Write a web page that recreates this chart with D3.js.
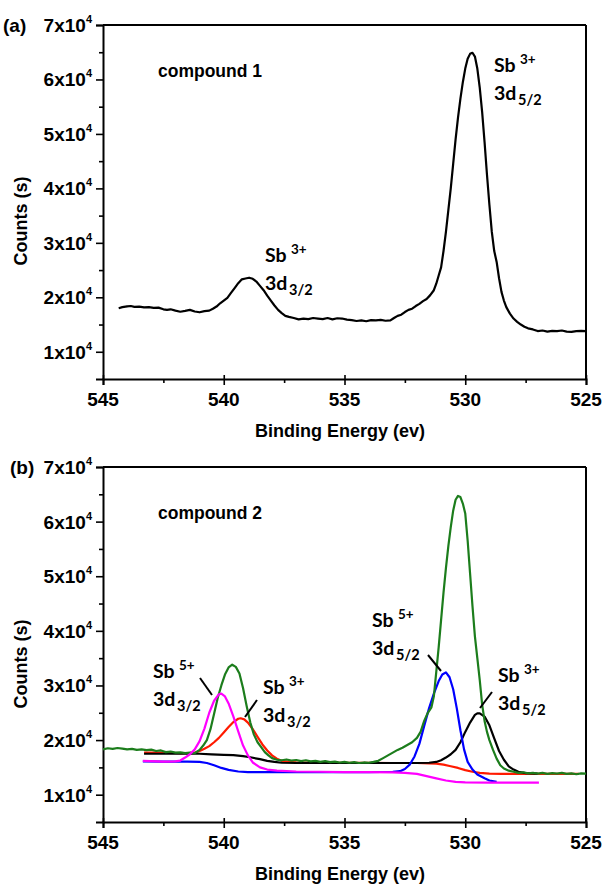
<!DOCTYPE html>
<html lang="en">
<head>
<meta charset="UTF-8">
<title>XPS Sb 3d spectra</title>
<script src="https://d3js.org/d3.v7.min.js"></script>
<style>
body { margin: 0; background: #fff; }
svg text { font-family: "Liberation Sans", Arial, sans-serif; font-weight: bold; fill: #000; }
svg .ann { font-family: Lato, "Open Sans", sans-serif; }
</style>
</head>
<body>
<svg id="chart" width="605" height="886"></svg>
<script>
// data: [binding energy (eV), counts]
var compound1 = [
  [544.35,18000],[544.2,18200],[544.0,18350],[543.85,18400],[543.7,18250],[543.5,18300],[543.3,18150],[543.1,18200],
  [542.9,18050],[542.7,18100],[542.5,17800],[542.35,17700],[542.2,17800],[542.0,17550],[541.8,17350],[541.6,17500],
  [541.4,17700],[541.2,17400],[541.0,17250],[540.8,17450],[540.6,17550],[540.45,17900],[540.3,18300],[540.15,18900],
  [540.0,19400],[539.85,19900],[539.7,20800],[539.55,21700],[539.4,22600],[539.25,23300],[539.1,23450],[538.95,23600],
  [538.8,23400],[538.65,22900],[538.5,22100],[538.35,21300],[538.2,20300],[538.05,19400],[537.9,18500],[537.75,17700],
  [537.6,17100],[537.45,16600],[537.3,16400],[537.1,16200],[536.9,15950],[536.7,16100],[536.5,16000],[536.3,16200],
  [536.1,16100],[535.9,16000],[535.7,16200],[535.5,15950],[535.3,16150],[535.1,16100],[534.9,15900],[534.7,15800],
  [534.5,15650],[534.3,15750],[534.1,15600],[533.9,15800],[533.7,15750],[533.5,15850],[533.3,15700],[533.1,15750],
  [532.95,16200],[532.8,16600],[532.65,16800],[532.5,17300],[532.35,17700],[532.2,17900],[532.05,18400],[531.9,18800],
  [531.75,19300],[531.6,19700],[531.45,20400],[531.3,21300],[531.2,22500],[531.1,24000],[531.0,25500],[530.9,28500],
  [530.8,32000],[530.7,36000],[530.6,40000],[530.5,44500],[530.4,49000],[530.3,53000],[530.2,56500],[530.1,59500],
  [530.0,62000],[529.9,63800],[529.8,64700],[529.7,64900],[529.6,64200],[529.5,62000],[529.4,58500],[529.3,54000],
  [529.2,48500],[529.1,42500],[529.0,37000],[528.9,32000],[528.8,28500],[528.7,26500],[528.6,23500],[528.5,21000],
  [528.4,19400],[528.3,18200],[528.15,17000],[528.0,16100],[527.85,15500],[527.7,15000],[527.55,14600],[527.4,14300],
  [527.2,14100],[527.0,13800],[526.8,13900],[526.6,13700],[526.4,13850],[526.2,13800],[526.0,13900],[525.8,13700],
  [525.6,13650],[525.4,13800],[525.2,13850],[525.0,13800]
];

var c2Measured = [
  [545.0,18300],[544.8,18500],[544.6,18400],[544.4,18550],[544.2,18450],[544.0,18300],[543.8,18400],[543.6,18200],
  [543.4,18300],[543.2,18150],[543.0,18250],[542.8,18000],[542.6,18100],[542.4,17800],[542.2,17900],[542.0,17700],
  [541.8,17750],[541.6,17600],[541.4,17700],[541.2,17600],[541.0,18200],[540.85,19000],[540.7,20000],[540.55,22000],
  [540.4,24800],[540.25,27700],[540.1,30000],[539.95,32000],[539.8,33300],[539.65,33800],[539.5,33400],[539.35,32200],
  [539.2,29500],[539.05,26200],[538.9,23200],[538.75,21000],[538.6,19600],[538.45,18700],[538.3,17800],[538.15,17200],
  [538.0,16700],[537.8,16400],[537.6,16300],[537.4,16450],[537.2,16250],[537.0,16350],[536.8,16150],[536.6,16300],
  [536.4,16100],[536.2,16200],[536.0,16000],[535.8,16150],[535.6,15950],[535.4,16050],[535.2,15900],[535.0,16000],
  [534.8,15850],[534.6,15950],[534.4,15800],[534.2,15900],[534.0,15850],[533.8,16000],[533.6,16200],[533.4,16700],
  [533.2,17200],[533.0,17700],[532.8,18200],[532.6,18600],[532.4,19100],[532.2,19600],[532.0,20400],[531.85,21500],
  [531.7,23500],[531.55,25000],[531.4,26000],[531.3,28000],[531.2,32500],[531.1,37000],[531.0,42000],[530.9,47000],
  [530.8,51500],[530.7,55500],[530.6,59000],[530.5,62000],[530.4,64000],[530.3,64700],[530.2,64500],[530.1,63300],
  [530.0,61500],[529.9,56500],[529.8,50500],[529.7,44500],[529.6,39000],[529.5,35000],[529.4,31000],[529.3,26500],
  [529.2,23500],[529.1,21500],[529.0,20000],[528.85,18200],[528.7,16600],[528.55,15400],[528.4,14800],[528.2,14400],
  [528.0,14200],[527.8,14000],[527.6,14100],[527.4,13900],[527.2,14000],[527.0,13850],[526.8,14000],[526.6,13800],
  [526.4,13950],[526.2,13850],[526.0,14000],[525.8,13800],[525.6,13900],[525.4,13750],[525.2,13900],[525.0,13850]
];

var c2Sb3_32 = [
  [543.3,17700],[542.8,17700],[542.3,17650],[541.8,17600],[541.4,17650],[541.2,17700],[541.0,18000],[540.8,18400],
  [540.6,18900],[540.4,19600],[540.2,20400],[540.0,21400],[539.8,22400],[539.6,23300],[539.4,23900],[539.3,24000],
  [539.15,23800],[539.0,23200],[538.8,22000],[538.6,20600],[538.4,19200],[538.2,18100],[538.0,17200],[537.8,16600],
  [537.6,16200],[537.3,16000],[537.0,15900],[536.0,15850],[535.0,15850],[534.0,15850],[533.0,15800],[532.0,15800],
  [531.5,15750],[531.2,15700],[530.9,15500],[530.6,15200],[530.3,14900],[530.0,14500],[529.7,14200],[529.4,14000],
  [529.0,13850],[528.5,13800],[528.0,13800],[527.0,13800],[526.0,13800],[525.3,13800]
];

var c2Sb3_52 = [
  [543.3,17500],[542.5,17500],[541.5,17550],[541.0,17500],[540.5,17400],[540.0,17300],[539.6,17250],[539.2,17050],
  [538.9,16850],[538.5,16500],[538.2,16200],[537.9,16000],[537.6,15850],[537.0,15800],[536.0,15800],[535.0,15800],
  [534.0,15800],[533.0,15800],[532.0,15800],[531.5,15850],[531.2,16000],[531.0,16300],[530.8,16800],[530.6,17400],
  [530.4,18200],[530.2,19600],[530.0,21500],[529.8,23200],[529.6,24600],[529.5,24900],[529.4,24900],[529.2,24300],
  [529.0,22700],[528.8,20300],[528.6,18000],[528.4,16400],[528.2,15200],[528.0,14600],[527.8,14200],[527.5,13950],
  [527.0,13850]
];

var c2Sb5_52 = [
  [543.35,16100],[542.5,16050],[541.5,16050],[541.0,16000],[540.7,15800],[540.4,15400],[540.1,14900],[539.8,14550],
  [539.4,14250],[539.0,14150],[538.0,14150],[537.0,14150],[536.0,14150],[535.0,14150],[534.0,14150],[533.0,14200],
  [532.7,14300],[532.5,14700],[532.3,15500],[532.1,17000],[531.9,19300],[531.7,22600],[531.5,25800],[531.3,28500],
  [531.1,30800],[530.95,32000],[530.8,32400],[530.65,31500],[530.5,29300],[530.35,25800],[530.2,21800],[530.05,18300],
  [529.9,16000],[529.7,14600],[529.5,13700],[529.2,13000],[529.0,12600],[528.7,12350]
];

var c2Sb5_32 = [
  [543.35,16200],[542.5,16050],[542.0,16100],[541.8,16250],[541.6,16800],[541.4,17400],[541.2,18300],[541.0,19800],
  [540.8,22100],[540.6,25000],[540.4,27200],[540.2,28400],[540.1,28500],[539.95,28000],[539.8,26700],[539.6,24300],
  [539.4,21600],[539.2,19000],[539.0,17200],[538.8,15900],[538.5,15000],[538.2,14600],[537.8,14400],[537.0,14250],
  [536.0,14200],[535.0,14150],[534.0,14150],[533.0,14100],[532.5,14000],[532.0,13800],[531.6,13400],[531.2,13000],
  [530.8,12600],[530.4,12350],[530.0,12250],[529.0,12200],[528.0,12200],[526.95,12200]
];

var xTicks = [545, 540, 535, 530, 525];
var xMinor = [542.5, 537.5, 532.5, 527.5];
var yTicks = [10000, 20000, 30000, 40000, 50000, 60000, 70000];
var yMinor = [15000, 25000, 35000, 45000, 55000, 65000];
var yLabels = ["1", "2", "3", "4", "5", "6", "7"];

var svg = d3.select("#chart");

function panel(top, bottom, letter, compound, series) {
  var x = d3.scaleLinear().domain([545, 525]).range([103, 586]);
  var y = d3.scaleLinear().domain([5000, 70000]).range([bottom, top]);
  var g = svg.append("g");

  // top & right frame
  g.append("line").attr("x1", 103).attr("x2", 586).attr("y1", top).attr("y2", top)
    .attr("stroke", "#000").attr("stroke-width", 2);
  g.append("line").attr("x1", 586).attr("x2", 586).attr("y1", top).attr("y2", bottom)
    .attr("stroke", "#000").attr("stroke-width", 2);

  // x axis
  var xa = g.append("g").attr("transform", "translate(0," + bottom + ")")
    .call(d3.axisBottom(x).tickValues(xTicks).tickSize(6).tickFormat(""));
  xa.selectAll(".tick line").attr("y1", -4);
  g.append("g").attr("transform", "translate(0," + bottom + ")")
    .call(d3.axisBottom(x).tickValues(xMinor).tickSize(4).tickFormat(""))
    .select(".domain").remove();
  g.selectAll(".xlab").data(xTicks).enter().append("text")
    .attr("x", function (d) { return x(d); }).attr("y", bottom + 27)
    .attr("text-anchor", "middle").attr("font-size", 19).text(function (d) { return d; });

  // y axis
  g.append("g").attr("transform", "translate(103,0)")
    .call(d3.axisLeft(y).tickValues(yTicks).tickSize(7).tickFormat(""));
  g.append("g").attr("transform", "translate(103,0)")
    .call(d3.axisLeft(y).tickValues(yMinor).tickSize(4).tickFormat(""))
    .select(".domain").remove();
  g.selectAll("path.domain").attr("stroke-width", 2);
  g.selectAll(".tick line").attr("stroke-width", 1.6);

  var yl = g.selectAll(".ylab").data(yTicks).enter().append("text")
    .attr("x", 92).attr("y", function (d) { return y(d) + 7; })
    .attr("text-anchor", "end").attr("font-size", 19);
  yl.append("tspan").text(function (d, i) { return yLabels[i] + "x10"; });
  yl.append("tspan").attr("font-size", 11).attr("dy", -9).text("4");

  // titles
  g.append("text").attr("x", 340).attr("y", bottom + 58).attr("text-anchor", "middle")
    .attr("font-size", 18).text("Binding Energy (ev)");
  var cy = bottom - 158;
  g.append("text").attr("transform", "translate(27," + cy + ") rotate(-90)")
    .attr("text-anchor", "middle").attr("font-size", 18).text("Counts (s)");
  g.append("text").attr("x", letter.x).attr("y", top + 7).attr("font-size", 19).text(letter.t);
  g.append("text").attr("x", 158).attr("y", top + 52).attr("font-size", 17.5).text(compound);

  var line = d3.line().x(function (d) { return x(d[0]); }).y(function (d) { return y(d[1]); });
  series.forEach(function (s) {
    g.append("path").datum(s.data).attr("d", line).attr("fill", "none")
      .attr("stroke", s.color).attr("stroke-width", 2.2).attr("stroke-linejoin", "round");
  });
  return g;
}

function label(g, px, py, ox, sub, lead) {
  g.append("text").attr("class", "ann").attr("x", px).attr("y", py).attr("font-size", 19.5).text("Sb");
  g.append("text").attr("class", "ann").attr("x", px + 26).attr("y", py - 8).attr("font-size", 13.5).text(ox);
  g.append("text").attr("class", "ann").attr("x", px).attr("y", py + 28).attr("font-size", 19.5).text("3d");
  g.append("text").attr("class", "ann").attr("x", px + 24).attr("y", py + 33).attr("font-size", 14.5).text(sub);
  if (lead) {
    g.append("line").attr("x1", lead[0]).attr("y1", lead[1]).attr("x2", lead[2]).attr("y2", lead[3])
      .attr("stroke", "#000").attr("stroke-width", 2);
  }
}

var pa = panel(25, 379, { t: "(a)", x: 3 }, "compound 1", [{ data: compound1, color: "#000" }]);
label(pa, 494, 72, "3+", "5/2");
label(pa, 265, 262, "3+", "3/2");

var pb = panel(467, 822, { t: "(b)", x: 10 }, "compound 2", [
  { data: c2Sb3_32, color: "#ff1a00" },
  { data: c2Sb3_52, color: "#000" },
  { data: c2Sb5_52, color: "#0000ff" },
  { data: c2Measured, color: "#1c7d1c" },
  { data: c2Sb5_32, color: "#ff00ff" }
]);
label(pb, 153, 678, "5+", "3/2", [200, 678, 212, 695]);
label(pb, 263, 694, "3+", "3/2", [257, 700, 245, 717]);
label(pb, 372, 627, "5+", "5/2", [428, 655, 441, 671]);
label(pb, 498, 682, "3+", "5/2", [492, 692, 480, 708]);
</script>
</body>
</html>
